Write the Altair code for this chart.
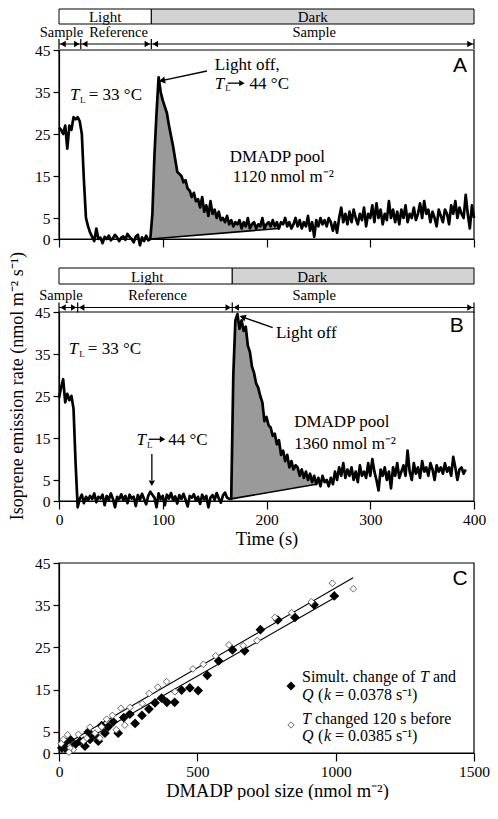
import altair as alt
import pandas as pd

SERIF = "Liberation Serif"
SANS = "Liberation Sans"
DARK_FILL = "#d3d3d3"
POOL_FILL = "#9a9a9a"
PLOT_W = 415
PLOT_H = 189
STEP = 2  # seconds between readings

# ---------------- Panel A: emission rate, t = 0..400 s every 2 s ----------------
A_rate = [
    26.5, 26, 25, 27, 21.5, 27, 26, 29, 28.5, 29,
    28, 25, 14, 5, 3, 1.5, 0.5, -0.5, 2.5, 0,
    0.3, -1, 0.5, 0, 0.8, -0.3, 0.2, 1, 0.4, -0.5,
    0.3, 0.6, -0.2, 1.2, 0.5, 0, -0.8, 0.6, 1, -1.5,
    0.4, -0.5, 0.8, -0.3, 0,
    6, 20, 30, 38.5, 35, 33, 31.5, 30, 27, 24.5,
    22, 19, 16, 15.5, 15, 13.5, 14, 12, 11.5, 10,
    11, 9, 9.5, 7.5, 10, 6.5, 8, 5.5, 9, 6,
    7, 5, 6.5, 4.5, 5, 4, 5.5, 3.5, 4.5, 3,
    4, 3.5, 4.5, 2.5, 4, 3, 5, 2.5, 3.5, 4,
    2.5, 3.5, 3, 5, 2.5, 3.5,
    4, 3, 4.5, 3, 4, 2.5, 4, 3.5, 5, 3,
    4, 2.5, 3.5, 5, 3, 4.5, 2.5, 4, 3, 5.5,
    2, 4, 0.5, 4.5, 3, 5, 3.5, 4.5, 3, 5,
    4, 2, 4, 1.5, 5, 7.5, 4, 6, 3.5, 6.5,
    4, 7, 5, 3.5, 6, 4.5, 7.5, 3, 6, 5,
    8, 4, 8.5, 5, 7, 3.5, 6, 4.5, 9, 5,
    7, 4, 6.5, 3.5, 7, 5, 8, 4, 6, 5,
    7.5, 4.5, 6, 8.5, 5, 9, 6, 7, 4, 6.5,
    5, 3, 7, 5.5, 4, 7, 6, 3.5, 8, 6,
    9, 5, 7.5, 6, 5, 10.5, 6, 2.5, 8, 5,
]

# ---------------- Panel B: emission rate, t = 0..392 s every 2 s ----------------
B_rate = [
    24.5, 27, 29, 23.5, 25.5, 24, 25, 22, 9, -1.5,
    0.5, 1.5, -0.5, 1, 0.2, 1.2, 0.5, 1.8, -0.3, 1,
    0.6, 1.5, -1, 1.2, 0.3, 1.8, 0.5, -1.5, 1, 0.4,
    1.6, 0.2, 1.2, -0.5, 1.5, 0.6, 1, -1.2, 1.4, 0.3,
    1.7, 0.5, -0.8, 1.2, 2.2, 1.5, 0.8, -1.5, 1.8, 0.4,
    1.2, -1, 1.5, 0.6, 1.9, 0.2, 1.1, -0.6, 1.4, 0.5,
    1.7, 0.3, -1.3, 1.2, 0.8, 1.6, 0.1, 1, -0.7, 1.5,
    0.4, 1.2, -1.5, 0.8, 1.4, 0.3, 1.9, 0.6, -0.4, 1.3,
    2, 0.8, 0.5,
    0.5, 30, 43, 44.5, 41, 43, 40.5, 41.5, 37, 35.5,
    32, 30.5, 28, 27, 25, 23.5, 19, 20, 18, 17.5,
    15.5, 16, 13.5, 14.5, 11, 12, 9.5, 11, 8, 9.5,
    7.5, 8.5, 8, 6, 7.5, 5.5, 7, 5, 6.5, 4.5,
    6, 4, 5.5, 3.5, 6, 4.5, 5, 3.5, 5.5, 4,
    7, 5, 8, 6, 9, 5.5, 7.5, 6, 8, 5,
    7, 4.5, 8.5, 6, 7, 5.5, 9, 6, 10, 7,
    5, 2.5, 7.5, 6, 8, 5, 7, 3, 8, 6,
    9, 5.5, 7, 8.5, 6, 12, 7, 5, 9, 6.5,
    8, 5.5, 9.5, 7, 8, 6, 9, 7.5, 5, 8.5,
    7, 8, 6.5, 9, 7, 8, 6, 10.5, 8, 5,
    7.5, 8, 6.5, 7.5,
]

PHASE_NAMES = ["Light", "Dark"]
PHASE_FILL = ["white", DARK_FILL]
SEG_NAMES = ["Sample", "Reference", "Sample"]
X_TICKS_T = [0, 100, 200, 300, 400]
X_TICKS_C = [0, 500, 1000, 1500]
Y_TICKS = [0, 5, 15, 25, 35, 45]

A_phase_start = [0, 89]
A_phase_end = [89, 400]
A_phase_label_t = [44.5, 244.5]
A_seg_bounds = [0, 21, 89, 400]
A_seg_label_t = [2.4, 57.4, 246]
A_pool_line = [(88, 0.0), (212, 2.5)]

B_phase_start = [0, 167]
B_phase_end = [167, 400]
B_phase_label_t = [85, 244]
B_seg_bounds = [0, 18, 167, 400]
B_seg_label_t = [1.9, 95, 246]
B_pool_line = [(166, 0.5), (248, 4.0)]

Y_TITLE = "Isoprene emission rate (nmol m\u207b\u00b2 s\u207b\u00b9)"

# ---------------- Panel C ----------------
C_sim_x = [995, 922, 853, 791, 728, 671, 627, 577, 536, 503,
           473, 443, 418, 390, 371, 347, 325, 300, 275, 256,
           234, 214, 196, 178, 166, 154, 142, 130, 112, 94,
           76, 58, 40, 22, 10, 26, 88, 106]
C_sim_y = [37.2, 35.1, 32.1, 31.5, 29.2, 24.2, 24.4, 21.8, 18.4, 14.8,
           15.4, 14.9, 12.0, 12.0, 13.0, 11.9, 10.4, 8.9, 7.0, 9.2,
           8.4, 4.7, 7.4, 6.2, 4.7, 6.5, 2.8, 4.3, 3.2, 1.6,
           2.8, 2.0, 3.2, 2.4, 1.2, 0.9, 2.8, 5.0]
C_pre_x = [1064, 988, 912, 841, 780, 716, 666, 614, 566, 522,
           484, 419, 389, 357, 326, 301, 257, 224, 193, 172,
           154, 130, 112, 100, 88, 70, 52, 40, 36, 31,
           16, 8, 148, 238, 207]
C_pre_y = [38.9, 40.2, 35.8, 33.2, 32.1, 26.6, 25.4, 25.6, 23.0, 21.0,
           19.9, 14.5, 16.9, 15.6, 14.1, 11.7, 10.8, 10.6, 8.9, 8.0,
           6.2, 4.7, 6.1, 3.5, 2.8, 4.4, 0.8, 1.2, 0.2, 4.3,
           3.2, 2.2, 3.5, 6.6, 5.5]
C_fit_sim = [(30, 0.6), (1010, 37.3)]
C_fit_pre = [(0, 1.2), (1063, 41.5)]


def make_p(H, xmax, ph, xtitle):
    return {
        "xs": alt.Scale(domain=[0, xmax], nice=False),
        "ys": alt.Scale(domain=[0, 45], range=[H, H - ph], nice=False),
        "xt": xtitle, "H": H, "ph": ph, "xmax": xmax,
    }


def X(P, f, axis=None):
    if axis is None:
        return alt.X(f, scale=P["xs"], title=P["xt"])
    return alt.X(f, scale=P["xs"], title=P["xt"], axis=axis)


def Y(P, f, axis=None):
    if axis is None:
        return alt.Y(f, scale=P["ys"], title=None)
    return alt.Y(f, scale=P["ys"], title=None, axis=axis)


def texts(rows, P, size=17, style="normal", align="left", font=SERIF):
    df = pd.DataFrame(rows, columns=["text", "x", "y"])
    return alt.Chart(df).mark_text(
        font=font, fontSize=size, fontStyle=style, align=align,
        baseline="middle", color="black"
    ).encode(x=X(P, "x:Q"), y=Y(P, "y:Q"), text="text:N")


def segs(rows, P, width=1.3):
    df = pd.DataFrame(rows, columns=["x0", "y0", "x1", "y1"])
    return alt.Chart(df).mark_rule(color="black", strokeWidth=width).encode(
        x=X(P, "x0:Q"), y=Y(P, "y0:Q"), x2="x1:Q", y2="y1:Q")


def heads(rows, P, shape, angle=0, size=45):
    df = pd.DataFrame(rows, columns=["x", "y"])
    mk = dict(shape=shape, filled=True, size=size, color="black", opacity=1)
    if angle:
        mk["angle"] = angle
    return alt.Chart(df).mark_point(**mk).encode(x=X(P, "x:Q"), y=Y(P, "y:Q"))


def header(P, bar_top, bar_h, seg_y, p_start, p_end, p_lab, bounds, s_lab):
    ph = pd.DataFrame({"name": PHASE_NAMES, "start": p_start, "end": p_end,
                       "lx": p_lab, "fill": PHASE_FILL})
    bars = alt.Chart(ph).mark_rect(stroke="black", strokeWidth=1).encode(
        x=X(P, "start:Q"), x2="end:Q", y=alt.value(bar_top), y2=alt.value(bar_top + bar_h),
        fill=alt.Fill("fill:N", scale=None))
    bar_txt = alt.Chart(ph).mark_text(font=SERIF, fontSize=15, color="black",
                                      baseline="middle").encode(
        x=X(P, "lx:Q"), y=alt.value(bar_top + bar_h / 2 + 0.5), text="name:N")
    sg = pd.DataFrame({"a": bounds[:-1], "b": bounds[1:], "name": SEG_NAMES, "lx": s_lab})
    seg_txt = alt.Chart(sg).mark_text(font=SERIF, fontSize=14.5, color="black",
                                      baseline="middle").encode(
        x=X(P, "lx:Q"), y=alt.value(seg_y - 11.5), text="name:N")
    hline = alt.Chart(sg).mark_rule(color="black", strokeWidth=1).encode(
        x=X(P, "a:Q"), x2="b:Q", y=alt.value(seg_y))
    bd = pd.DataFrame({"b": bounds})
    vbars = alt.Chart(bd).mark_rule(color="black", strokeWidth=1.2).encode(
        x=X(P, "b:Q"), y=alt.value(seg_y - 5), y2=alt.value(seg_y + 5))
    lh = alt.Chart(sg).mark_point(shape="triangle-left", filled=True, size=40, color="black",
                                  opacity=1, xOffset=4).encode(x=X(P, "a:Q"), y=alt.value(seg_y))
    rh = alt.Chart(sg).mark_point(shape="triangle-right", filled=True, size=40, color="black",
                                  opacity=1, xOffset=-4).encode(x=X(P, "b:Q"), y=alt.value(seg_y))
    return [bars, bar_txt, seg_txt, hline, vbars, lh, rh]


def series(rate, P, pool_line, show_x):
    df = pd.DataFrame({"t": [i * STEP for i in range(len(rate))], "v": rate})
    (t0, b0), (t1, b1) = pool_line
    shade = df[(df.t >= t0) & (df.t <= t1)].copy()
    shade["base"] = b0 + (shade.t - t0) * (b1 - b0) / (t1 - t0)
    area = alt.Chart(shade).mark_area(color=POOL_FILL, opacity=1).encode(
        x=X(P, "t:Q"), y=Y(P, "v:Q"), y2="base:Q")
    base = segs([(t0, b0, t1, b1)], P, width=1.6)
    xaxis = alt.Axis(values=X_TICKS_T, labels=show_x, tickSize=8, labelPadding=3,
                     titlePadding=2)
    yaxis = alt.Axis(values=Y_TICKS, tickSize=6, labelPadding=3)
    line = alt.Chart(df).mark_line(color="black", strokeWidth=2.7, strokeJoin="round").encode(
        x=X(P, "t:Q", xaxis), y=Y(P, "v:Q", yaxis))
    frame = alt.Chart(pd.DataFrame({"x0": [0], "x1": [400], "y0": [0], "y1": [45]})).mark_rect(
        fillOpacity=0, stroke="black", strokeWidth=1.2).encode(
        x=X(P, "x0:Q"), x2="x1:Q", y=Y(P, "y0:Q"), y2="y1:Q")
    return [area, base, line, frame]


# ---------------- Panel A ----------------
HA = 230
PA = make_p(HA, 400, PLOT_H, None)
layersA = header(PA, 0, 15, 35, A_phase_start, A_phase_end, A_phase_label_t,
                 A_seg_bounds, A_seg_label_t)
layersA += series(A_rate, PA, A_pool_line, False)
layersA += [
    texts([("T", 10.5, 34.3), ("T", 150.2, 37.0)], PA, style="italic"),
    texts([("L", 20.3, 33.0), ("L", 160.2, 35.9)], PA, size=9),
    texts([("= 33 \u00b0C", 28.7, 34.3), ("Light off,", 150.2, 41.4), ("44 \u00b0C", 183.7, 37.0),
           ("DMADP pool", 164.6, 19.6), ("1120 nmol m\u207b\u00b2", 167.5, 14.7)], PA),
    segs([(162.5, 37.1, 174.0, 37.1), (142.6, 40.0, 99.0, 37.7)], PA),
    heads([(176.3, 37.1)], PA, "triangle-right", size=40),
    heads([(99.3, 37.7)], PA, "triangle-up", angle=258, size=50),
    texts([("A", 386.6, 41.1)], PA, size=21, align="center", font=SANS),
]
panelA = alt.layer(*layersA).properties(width=PLOT_W, height=HA)

# ---------------- Panel B ----------------
HB = 262
PB = make_p(HB, 400, PLOT_H, "Time (s)")
layersB = header(PB, 29, 16, 68.5, B_phase_start, B_phase_end, B_phase_label_t,
                 B_seg_bounds, B_seg_label_t)
layersB += series(B_rate, PB, B_pool_line, True)
layersB += [
    texts([("T", 9.3, 36.3), ("T", 74.8, 14.6)], PB, style="italic"),
    texts([("L", 19.4, 35.1), ("L", 84.9, 13.4)], PB, size=9),
    texts([("= 33 \u00b0C", 27.8, 36.3), ("44 \u00b0C", 105.2, 14.6), ("Light off", 209.1, 40.1),
           ("DMADP pool", 226.7, 18.8), ("1360 nmol m\u207b\u00b2", 226.7, 13.6)], PB),
    segs([(86.5, 14.7, 97.8, 14.7), (89.5, 11.2, 89.5, 5.0), (206.0, 41.3, 177.0, 43.8)], PB),
    heads([(99.8, 14.7)], PB, "triangle-right", size=40),
    heads([(89.5, 4.2)], PB, "triangle-down", size=40),
    heads([(177.0, 43.8)], PB, "triangle-up", angle=290, size=50),
    texts([("B", 383.4, 41.7)], PB, size=21, align="center", font=SANS),
    alt.Chart(pd.DataFrame({"s": [Y_TITLE]})).mark_text(
        font=SERIF, fontSize=18, angle=270, align="center", baseline="middle", color="black"
    ).encode(x=alt.value(-41), y=alt.value(147), text="s:N"),
]
panelB = alt.layer(*layersB).properties(width=PLOT_W, height=HB)

# ---------------- Panel C ----------------
HC = 252
PHC = 190
PC = make_p(HC, 1500, PHC, "DMADP pool size (nmol m\u207b\u00b2)")
TOPC = HC - PHC


def px2d(px, py):
    # legend placement given in pixels inside panel C -> data units of panel C
    return px * 1500 / PLOT_W, (HC - py) * 45 / PHC


sim = pd.DataFrame({"x": C_sim_x, "y": C_sim_y})
pre = pd.DataFrame({"x": C_pre_x, "y": C_pre_y})
frameC = alt.Chart(pd.DataFrame({"x0": [0], "x1": [1500], "y0": [0], "y1": [45]})).mark_rect(
    fillOpacity=0, stroke="black", strokeWidth=1.2).encode(
    x=X(PC, "x0:Q", alt.Axis(values=X_TICKS_C, format="d", tickSize=8, labelPadding=3,
                             titlePadding=2, titleX=218)),
    x2="x1:Q",
    y=Y(PC, "y0:Q", alt.Axis(values=Y_TICKS, tickSize=6, labelPadding=3)),
    y2="y1:Q")
fits = segs([(C_fit_sim[0][0], C_fit_sim[0][1], C_fit_sim[1][0], C_fit_sim[1][1]),
             (C_fit_pre[0][0], C_fit_pre[0][1], C_fit_pre[1][0], C_fit_pre[1][1])],
            PC, width=1.1)
pts_sim = alt.Chart(sim).mark_point(shape="diamond", filled=True, size=95, color="black",
                                    opacity=1).encode(x=X(PC, "x:Q"), y=Y(PC, "y:Q"))
pts_pre = alt.Chart(pre).mark_point(shape="diamond", filled=True, fill="white", stroke="#444444",
                                    strokeWidth=0.8, size=45, opacity=1).encode(
    x=X(PC, "x:Q"), y=Y(PC, "y:Q"))


def leg_rows(rows):
    out = []
    for s, px, py in rows:
        dx, dy = px2d(px, py)
        out.append((s, dx, dy))
    return out


LEG = 16
L1, L2, L3, L4 = TOPC + 114, TOPC + 132, TOPC + 155.5, TOPC + 173
leg_sym1 = alt.Chart(pd.DataFrame({"a": [1]})).mark_point(
    shape="diamond", filled=True, size=80, color="black", opacity=1).encode(
    x=alt.value(232), y=alt.value(TOPC + 123))
leg_sym2 = alt.Chart(pd.DataFrame({"a": [1]})).mark_point(
    shape="diamond", filled=True, fill="white", stroke="#444444", strokeWidth=0.8,
    size=40, opacity=1).encode(x=alt.value(232), y=alt.value(TOPC + 162))
leg_norm = texts(leg_rows([
    ("Simult. change of", 243, L1), ("and", 374, L1),
    ("(", 259, L2), ("= 0.0378 s\u207b\u00b9)", 276, L2),
    ("changed 120 s before", 256, L3),
    ("(", 259, L4), ("= 0.0385 s\u207b\u00b9)", 276, L4),
]), PC, size=LEG)
leg_ital = texts(leg_rows([
    ("T", 361, L1), ("Q", 243, L2), ("k", 265, L2),
    ("T", 243, L3), ("Q", 243, L4), ("k", 265, L4),
]), PC, size=LEG, style="italic")
letterC = texts(leg_rows([("C", 401, TOPC + 16)]), PC, size=21, align="center", font=SANS)

panelC = alt.layer(frameC, fits, pts_sim, pts_pre, leg_sym1, leg_sym2, leg_norm, leg_ital,
                   letterC).properties(width=PLOT_W, height=HC)

chart = alt.vconcat(panelA, panelB, panelC, spacing=0, bounds="flush").properties(
    padding=0
).configure_axis(
    labelFont=SERIF, labelFontSize=15.5, labelColor="black", tickColor="black",
    domainColor="black", titleFont=SERIF, titleFontSize=18.5, titleFontWeight="normal",
    titleColor="black", labelFlush=False, labelOverlap=False, grid=False,
    domainWidth=1.2, tickWidth=1.2
).configure_view(stroke=None)

chart.save("out.html", embed_options={"renderer": "svg", "actions": False})
